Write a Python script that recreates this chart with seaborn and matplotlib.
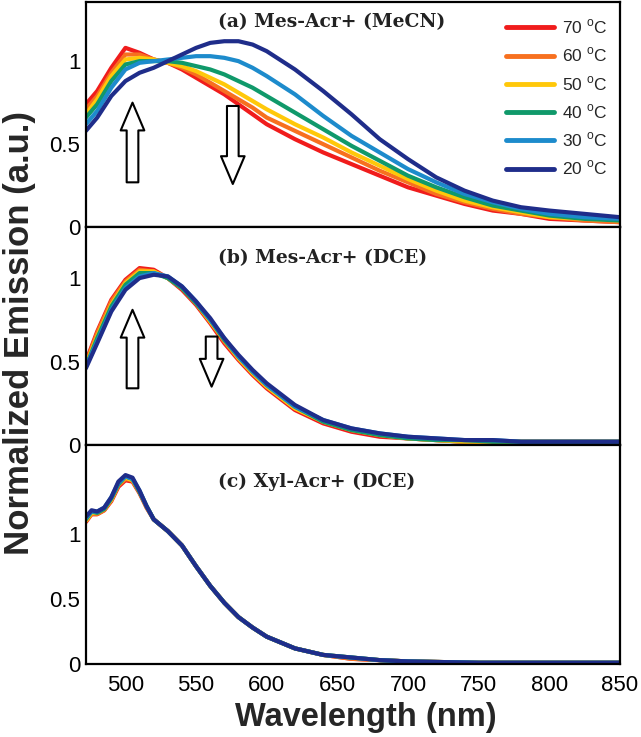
"""Temperature-dependent emission spectra of acridinium dyes (three stacked panels)."""

import matplotlib.pyplot as plt
import pandas as pd
import seaborn as sns

# ---- data ----------------------------------------------------------------
TEMPS = ["70", "60", "50", "40", "30", "20"]
COLORS = ["#f01c1c", "#f7701f", "#ffc80a", "#10996a", "#1d8bcc", "#1f2d8a"]

# (a) Mes-Acr+ in MeCN
WL_A = [472, 480, 490, 500, 510, 520, 530, 540, 550, 560, 570, 580, 590,
        600, 620, 640, 660, 680, 700, 720, 740, 760, 780, 800, 825, 850]
MECN_70 = [0.74, 0.82, 0.96, 1.08, 1.05, 1.01, 0.99, 0.95, 0.90, 0.85, 0.80, 0.74, 0.68,
           0.62, 0.53, 0.45, 0.38, 0.31, 0.24, 0.19, 0.14, 0.10, 0.08, 0.05, 0.04, 0.03]
MECN_60 = [0.71, 0.79, 0.93, 1.04, 1.04, 1.01, 0.99, 0.96, 0.92, 0.87, 0.82, 0.77, 0.72,
           0.66, 0.58, 0.50, 0.42, 0.34, 0.27, 0.20, 0.15, 0.11, 0.08, 0.06, 0.04, 0.03]
MECN_50 = [0.68, 0.77, 0.91, 1.01, 1.02, 1.01, 0.99, 0.97, 0.94, 0.90, 0.86, 0.81, 0.76,
           0.71, 0.62, 0.54, 0.45, 0.37, 0.29, 0.22, 0.16, 0.12, 0.09, 0.06, 0.05, 0.04]
MECN_40 = [0.66, 0.74, 0.88, 0.98, 1.00, 1.00, 1.00, 0.99, 0.97, 0.95, 0.92, 0.88, 0.84,
           0.79, 0.69, 0.59, 0.49, 0.40, 0.31, 0.24, 0.18, 0.13, 0.10, 0.07, 0.05, 0.04]
MECN_30 = [0.62, 0.70, 0.84, 0.95, 0.99, 1.00, 1.01, 1.02, 1.03, 1.03, 1.02, 1.00, 0.96,
           0.91, 0.80, 0.67, 0.55, 0.45, 0.35, 0.27, 0.20, 0.15, 0.11, 0.08, 0.06, 0.05]
MECN_20 = [0.58, 0.66, 0.79, 0.88, 0.93, 0.96, 1.00, 1.04, 1.08, 1.11, 1.12, 1.12, 1.10,
           1.06, 0.95, 0.82, 0.68, 0.53, 0.41, 0.30, 0.22, 0.16, 0.12, 0.10, 0.08, 0.06]

# (b) Mes-Acr+ in DCE
WL_B = WL_A
DCE_MES_70 = [0.50, 0.68, 0.87, 0.99, 1.06, 1.05, 1.00, 0.93, 0.84, 0.73, 0.61, 0.51, 0.42,
              0.34, 0.21, 0.13, 0.08, 0.05, 0.04, 0.03, 0.02, 0.02, 0.02, 0.02, 0.02, 0.02]
DCE_MES_60 = [0.49, 0.67, 0.86, 0.98, 1.05, 1.04, 1.00, 0.94, 0.85, 0.74, 0.62, 0.52, 0.43,
              0.35, 0.22, 0.14, 0.09, 0.06, 0.04, 0.03, 0.02, 0.02, 0.02, 0.02, 0.02, 0.02]
DCE_MES_50 = [0.48, 0.65, 0.84, 0.97, 1.04, 1.04, 1.00, 0.94, 0.85, 0.74, 0.63, 0.52, 0.43,
              0.35, 0.22, 0.14, 0.09, 0.06, 0.04, 0.03, 0.02, 0.02, 0.02, 0.02, 0.02, 0.02]
DCE_MES_40 = [0.47, 0.64, 0.83, 0.96, 1.03, 1.03, 1.00, 0.94, 0.85, 0.75, 0.63, 0.53, 0.44,
              0.36, 0.23, 0.14, 0.09, 0.06, 0.04, 0.03, 0.03, 0.02, 0.02, 0.02, 0.02, 0.02]
DCE_MES_30 = [0.47, 0.62, 0.81, 0.94, 1.01, 1.03, 1.01, 0.95, 0.86, 0.75, 0.64, 0.53, 0.44,
              0.36, 0.23, 0.15, 0.10, 0.07, 0.05, 0.04, 0.03, 0.03, 0.02, 0.02, 0.02, 0.02]
DCE_MES_20 = [0.46, 0.61, 0.80, 0.93, 1.00, 1.02, 1.01, 0.95, 0.86, 0.76, 0.64, 0.54, 0.45,
              0.37, 0.24, 0.15, 0.10, 0.07, 0.05, 0.04, 0.03, 0.03, 0.02, 0.02, 0.02, 0.02]

# (c) Xyl-Acr+ in DCE
WL_C = [472, 476, 480, 485, 490, 495, 500, 505, 510, 515, 520, 530, 540, 550,
        560, 570, 580, 590, 600, 620, 640, 660, 680, 700, 750, 800, 850]
DCE_XYL_70 = [1.09, 1.15, 1.15, 1.18, 1.25, 1.36, 1.41, 1.40, 1.31, 1.20, 1.11, 1.02, 0.91,
              0.75, 0.60, 0.47, 0.36, 0.28, 0.21, 0.12, 0.07, 0.04, 0.03, 0.02, 0.01, 0.01, 0.01]
DCE_XYL_60 = [1.10, 1.15, 1.15, 1.18, 1.26, 1.37, 1.42, 1.41, 1.32, 1.20, 1.11, 1.02, 0.91,
              0.75, 0.60, 0.47, 0.36, 0.28, 0.21, 0.12, 0.07, 0.04, 0.03, 0.02, 0.01, 0.01, 0.01]
DCE_XYL_50 = [1.10, 1.16, 1.16, 1.19, 1.26, 1.38, 1.43, 1.41, 1.32, 1.21, 1.11, 1.02, 0.91,
              0.75, 0.60, 0.47, 0.36, 0.28, 0.21, 0.12, 0.07, 0.05, 0.03, 0.02, 0.01, 0.01, 0.01]
DCE_XYL_40 = [1.11, 1.17, 1.16, 1.19, 1.27, 1.38, 1.44, 1.42, 1.32, 1.21, 1.11, 1.02, 0.91,
              0.75, 0.60, 0.47, 0.36, 0.28, 0.21, 0.12, 0.07, 0.05, 0.03, 0.02, 0.01, 0.01, 0.01]
DCE_XYL_30 = [1.12, 1.17, 1.17, 1.20, 1.28, 1.39, 1.44, 1.42, 1.33, 1.21, 1.11, 1.02, 0.91,
              0.75, 0.60, 0.47, 0.36, 0.28, 0.21, 0.12, 0.07, 0.05, 0.03, 0.02, 0.01, 0.01, 0.01]
DCE_XYL_20 = [1.13, 1.18, 1.17, 1.20, 1.28, 1.40, 1.45, 1.43, 1.33, 1.21, 1.11, 1.02, 0.91,
              0.75, 0.60, 0.47, 0.36, 0.28, 0.21, 0.12, 0.07, 0.05, 0.03, 0.02, 0.01, 0.01, 0.01]

PANELS = [
    ("(a) Mes-Acr+ (MeCN)", WL_A, [MECN_70, MECN_60, MECN_50, MECN_40, MECN_30, MECN_20]),
    ("(b) Mes-Acr+ (DCE)", WL_B, [DCE_MES_70, DCE_MES_60, DCE_MES_50, DCE_MES_40, DCE_MES_30, DCE_MES_20]),
    ("(c) Xyl-Acr+ (DCE)", WL_C, [DCE_XYL_70, DCE_XYL_60, DCE_XYL_50, DCE_XYL_40, DCE_XYL_30, DCE_XYL_20]),
]
YMAX = [1.355, 1.305, 1.68]
TITLE_Y = [0.91, 0.86, 0.83]
# arrows: (panel, x, tail y, head y)
ARROWS = [(0, 505, 0.27, 0.75), (0, 576, 0.73, 0.26),
          (1, 505, 0.34, 0.81), (1, 561, 0.65, 0.35)]


def _long(wl, series):
    frames = [pd.DataFrame({"wl": wl, "val": vals, "temp": t}) for t, vals in zip(TEMPS, series)]
    return pd.concat(frames, ignore_index=True)


sns.set_theme(style="white")
plt.rcParams["font.family"] = ["Liberation Sans", "DejaVu Sans"]
plt.rcParams["mathtext.fontset"] = "custom"
plt.rcParams["mathtext.rm"] = "Liberation Sans"
plt.rcParams["axes.edgecolor"] = "black"
plt.rcParams["axes.linewidth"] = 1.6

fig = plt.figure(figsize=(6.41, 7.37), dpi=100)
gs = fig.add_gridspec(3, 1, left=0.134, right=0.967, top=0.997, bottom=0.099,
                      hspace=0, height_ratios=[225, 218, 219])
palette = dict(zip(TEMPS, COLORS))

for i, (title, wl, series) in enumerate(PANELS):
    ax = fig.add_subplot(gs[i])
    sns.lineplot(data=_long(wl, series), x="wl", y="val", hue="temp", hue_order=TEMPS,
                 palette=palette, linewidth=3, legend=(i == 0), ax=ax)
    ax.set_xlim(472, 850)
    ax.set_ylim(0, YMAX[i])
    ax.set_xticks([500, 550, 600, 650, 700, 750, 800, 850])
    ax.set_yticks([0, 0.5, 1])
    ax.set_yticklabels(["0", "0.5", "1"])
    ax.tick_params(direction="in", length=5, width=1.4, labelsize=16, colors="black")
    ax.tick_params(axis="y", length=4, pad=4)
    ax.tick_params(axis="x", pad=8)
    if i < 2:
        ax.tick_params(axis="x", labelbottom=False)
    ax.set_xlabel("")
    ax.set_ylabel("")
    ax.text(0.247, TITLE_Y[i], title, transform=ax.transAxes, ha="left", va="center",
            family="DejaVu Serif", fontweight="bold", fontsize=13.5, color="#222222")
    for p, x, y0, y1 in ARROWS:
        if p == i:
            ax.annotate("", xy=(x, y1), xytext=(x, y0),
                        arrowprops=dict(arrowstyle="simple,head_length=1.0,head_width=0.85,tail_width=0.42",
                                        fc="white", ec="black", lw=1.5, mutation_scale=20,
                                        shrinkA=0, shrinkB=0))
    if i == 0:
        handles, _ = ax.get_legend_handles_labels()
        ax.legend(handles, [f"{t} $^{{\\mathrm{{o}}}}$C" for t in TEMPS], loc="upper right",
                  bbox_to_anchor=(1.0, 0.985), frameon=False, fontsize=12.5,
                  handlelength=2.8, handletextpad=0.45, labelspacing=0.55, borderaxespad=0.3)
        for line in ax.get_legend().get_lines():
            line.set_linewidth(3.5)

fig.text(0.57, 0.026, "Wavelength (nm)", ha="center", va="center",
         fontsize=23.5, fontweight="bold")
fig.text(0.03, 0.548, "Normalized Emission (a.u.)", ha="center", va="center",
         rotation=90, fontsize=25, fontweight="bold")

fig.savefig("out.png", dpi=100)
